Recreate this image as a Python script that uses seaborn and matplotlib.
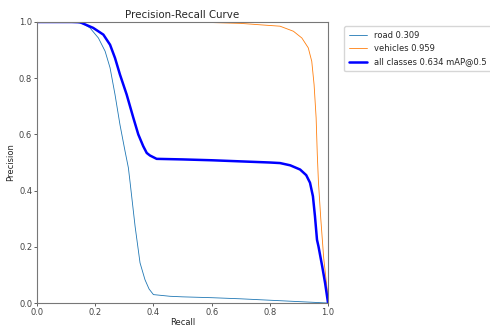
import pandas as pd
import matplotlib
matplotlib.use("Agg")
import matplotlib.pyplot as plt
import seaborn as sns

# precision / recall points
road_recall = [0.0, 0.10, 0.136, 0.16, 0.182, 0.211, 0.234, 0.251, 0.268, 0.285, 0.302, 0.314, 0.320, 0.337,
               0.354, 0.371, 0.385, 0.400, 0.457, 0.5, 0.6, 0.7, 0.8, 0.9, 1.0]
road_precision = [1.0, 1.0, 0.999, 0.993, 0.979, 0.943, 0.896, 0.837, 0.742, 0.635, 0.543, 0.481, 0.428, 0.273,
                  0.143, 0.083, 0.050, 0.030, 0.024, 0.022, 0.019, 0.015, 0.010, 0.005, 0.0]

veh_recall = [0.0, 0.4, 0.5, 0.6, 0.7, 0.766, 0.835, 0.881, 0.91, 0.932, 0.944, 0.952, 0.959, 0.963, 0.967,
              0.975, 0.985, 1.0]
veh_precision = [1.0, 1.0, 0.999, 0.998, 0.995, 0.99, 0.985, 0.967, 0.943, 0.908, 0.860, 0.777, 0.659, 0.529,
                 0.43, 0.3, 0.16, 0.02]

all_recall = [0.0, 0.12, 0.148, 0.193, 0.228, 0.251, 0.268, 0.285, 0.308, 0.331, 0.348, 0.365, 0.377, 0.388,
              0.411, 0.5, 0.6, 0.7, 0.8, 0.835, 0.87, 0.904, 0.925, 0.938, 0.948, 0.955, 0.962, 0.967, 0.98,
              0.99, 1.0]
all_precision = [1.0, 1.0, 0.999, 0.979, 0.955, 0.919, 0.872, 0.813, 0.742, 0.659, 0.600, 0.558, 0.534, 0.525,
                 0.513, 0.511, 0.508, 0.504, 0.50, 0.498, 0.49, 0.475, 0.455, 0.428, 0.38, 0.309, 0.225, 0.202,
                 0.13, 0.07, 0.0]

labels = ["road 0.309", "vehicles 0.959", "all classes 0.634 mAP@0.5"]

sns.set_style("ticks")
plt.rcParams['font.family'] = ['DejaVu Sans']

fig = plt.figure(figsize=(4.9, 3.33), dpi=100)
ax = fig.add_axes([0.0755, 0.09, 0.594, 0.844])

sns.lineplot(x=road_recall, y=road_precision, sort=False, estimator=None, color='tab:blue',
             linewidth=0.6, label=labels[0], ax=ax)
sns.lineplot(x=veh_recall, y=veh_precision, sort=False, estimator=None, color='tab:orange',
             linewidth=0.6, label=labels[1], ax=ax)
sns.lineplot(x=all_recall, y=all_precision, sort=False, estimator=None, color='blue',
             linewidth=1.8, label=labels[2], ax=ax)

ax.set_xlim(0, 1)
ax.set_ylim(0, 1)
ax.set_xlabel("Recall", fontsize=6, labelpad=1)
ax.set_ylabel("Precision", fontsize=6, labelpad=3)
ax.set_title("Precision-Recall Curve", fontsize=7.4, pad=3)
ax.tick_params(labelsize=6, length=2, width=0.6, pad=1.5, colors='#444444')
for s in ax.spines.values():
    s.set_linewidth(0.8)
    s.set_color('#777777')

ax.legend(bbox_to_anchor=(1.04, 1), loc="upper left", fontsize=6, frameon=True,
          handlelength=2.2, borderpad=0.6, labelspacing=0.5)

fig.savefig("out.png", dpi=100)
